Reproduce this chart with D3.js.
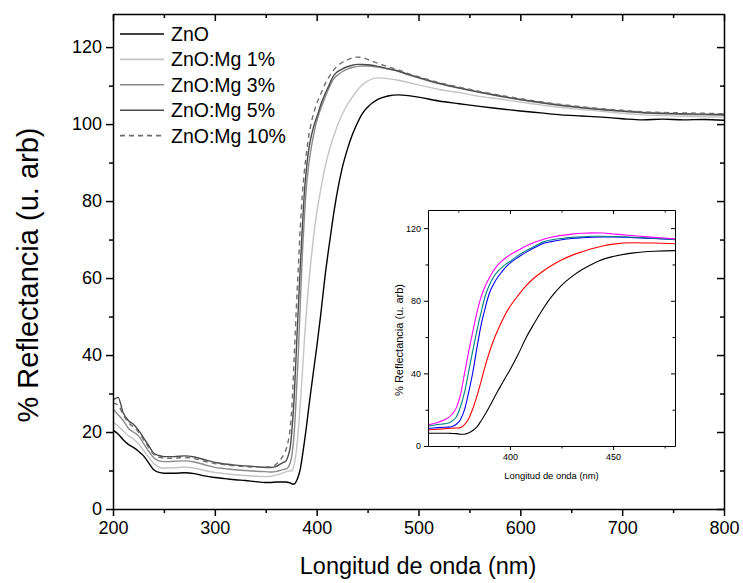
<!DOCTYPE html>
<html>
<head>
<meta charset="utf-8">
<script src="https://cdn.jsdelivr.net/npm/d3@7"></script>
<style>
  html, body { margin: 0; padding: 0; background: #fff; }
  svg { display: block; font-family: "Liberation Sans", Arial, sans-serif; }
</style>
</head>
<body>
<svg id="chart" width="743" height="583"></svg>
<script>
// ---------- data ----------
const wavelengths = [200,205,210,215,220,225,230,235,240,245,250,
  260,270,280,290,300,310,320,330,340,350,
  355,360,365,
  368,370,372,374,376,378,380,382,384,386,388,390,392,394,396,398,400,
  404,408,412,416,420,
  425,430,435,440,445,450,
  460,470,480,490,500,
  520,540,560,580,600,620,640,660,680,700,720,740,760,780,800];

const seriesNames = ["ZnO", "ZnO:Mg 1%", "ZnO:Mg 3%", "ZnO:Mg 5%", "ZnO:Mg 10%"];

const znO = [20.5,19.5,18,16.8,16,15,13.8,12,10.2,9.5,9.3,
  9.3,9.4,9.2,8.6,8.2,7.9,7.6,7.4,7.1,6.9,
  6.9,7.0,7.0,
  7.0,7.0,6.9,6.8,6.5,6.5,7.2,8.5,10.5,13.8,17.5,21.5,25.8,30,34,38,41.9,
  50.5,60,68,75.5,82,
  88.5,93.3,97.2,100.3,102.8,104.4,
  106.4,107.3,107.6,107.4,107,
  106,105.3,104.6,104,103.4,102.9,102.4,102.1,101.8,101.4,101.1,101.3,101.1,101.2,101];

const mg1 = [22.6,21.5,20.3,19,18.2,17,15.2,13.5,11.8,10.9,10.6,
  10.7,10.9,10.6,10,9.5,9.2,8.9,8.7,8.5,8.4,
  8.5,8.8,9.2,
  9.5,9.7,9.8,9.9,10.1,11.8,15,20.5,27.5,35.5,44,51.5,58,63.5,68.5,73,76.8,
  83,88.5,92.8,96.3,99.3,
  102.5,105,107,108.8,110.2,111.2,
  112,111.8,111.4,110.8,110.2,
  109,108.2,107.2,106.5,105.7,105,104.3,103.8,103.3,102.8,102.4,102.2,102,101.9,101.8];

const mg3 = [26,24.5,23,21,20,19,17,15,13.3,12.5,12.3,
  12.4,12.5,12.2,11.5,10.8,10.5,10.2,10,9.8,9.7,
  9.6,9.7,10.1,
  10.3,10.4,10.8,12,14.5,20,29.5,40.5,54,66.5,76,84,89,92.8,95.8,98.5,100.7,
  104,106.8,109.3,111.5,112.6,
  113.6,114.3,114.7,115,115.1,115.1,
  114.8,114.3,113.7,112.8,112,
  110.5,109.3,108.2,107.2,106.3,105.5,104.8,104.2,103.7,103.3,102.9,102.7,102.5,102.4,102.3];

const mg5 = [28.3,29,25,23,22,20.5,18.5,16.5,14.5,13.9,13.6,
  13.6,13.8,13.5,12.8,12.1,11.7,11.4,11.2,11,10.8,
  10.8,11,11.8,
  12.2,12.5,13.8,16,21.5,29.5,41,52.5,63.5,73.5,82.5,88.5,93,96,98.3,100.2,101.7,
  105,107.7,110,112.3,113.5,
  114.3,114.9,115.3,115.5,115.5,115.4,
  115,114.4,113.8,112.9,112.1,
  110.6,109.4,108.3,107.3,106.4,105.6,104.9,104.3,103.8,103.4,103,102.8,102.7,102.6,102.5];

const mg10 = [27.5,27,24.5,22.5,21.3,20,18,16,14.2,13.5,13.2,
  13.2,13.4,13.1,12.4,11.8,11.5,11.2,11,10.9,10.9,
  11,11.6,13,
  14.3,15.5,17.5,21,28,40,52,63,73.5,82,88,92.5,96.5,99.5,101.8,103.7,105.3,
  107.8,110.3,112.2,113.8,115,
  116,116.7,117.2,117.4,117.3,116.8,
  115.8,114.9,114.1,113.1,112.3,
  110.8,109.6,108.5,107.5,106.6,105.8,105.1,104.5,104,103.6,103.2,103,102.9,102.8,102.7];

const mainXTicks = [200, 300, 400, 500, 600, 700, 800];
const mainYTicks = [0, 20, 40, 60, 80, 100, 120];
const insetXTicks = [400, 450];
const insetYTicks = [0, 40, 80, 120];

const xTitle = "Longitud de onda (nm)";
const yTitle = "% Reflectancia (u. arb)";

// ---------- styles ----------
const mainStyles = [
  {color: "#000000", dash: null},
  {color: "#c4c4c4", dash: null},
  {color: "#8a8a8a", dash: null},
  {color: "#4a4a4a", dash: null},
  {color: "#6e6e6e", dash: "5,4"}
];
const insetColors = ["#000000", "#ff0000", "#0000ff", "#008080", "#ff00ff"];
const allValues = [znO, mg1, mg3, mg5, mg10];

const svg = d3.select("#chart");

// ---------- main chart ----------
const M = {left: 113, right: 724, top: 14, bottom: 509};
const x = d3.scaleLinear().domain([200, 800]).range([M.left, M.right]);
const y = d3.scaleLinear().domain([0, 128.6]).range([M.bottom, M.top]);

svg.append("clipPath").attr("id", "mainclip")
  .append("rect").attr("x", M.left).attr("y", M.top)
  .attr("width", M.right - M.left).attr("height", M.bottom - M.top);

const line = d3.line()
  .x((d, i) => x(wavelengths[i]))
  .y(d => y(d))
  .curve(d3.curveMonotoneX);

const gLines = svg.append("g").attr("clip-path", "url(#mainclip)");
allValues.forEach((vals, k) => {
  gLines.append("path")
    .attr("d", line(vals))
    .attr("fill", "none")
    .attr("stroke", mainStyles[k].color)
    .attr("stroke-width", 1.4)
    .attr("stroke-dasharray", mainStyles[k].dash);
});

function drawAxes(g, xs, ys, xTicksMajor, xMinor, yTicksMajor, yMinor, opt) {
  const [x0, x1] = xs.range();
  const [y0, y1] = ys.range();
  const fs = opt.fontSize;
  const bottom = g.append("g").attr("transform", `translate(0,${y0})`)
    .call(d3.axisBottom(xs).tickValues(xTicksMajor).tickSize(opt.major).tickSizeOuter(0).tickPadding(opt.padX));
  bottom.append("g").call(d3.axisBottom(xs).tickValues(xMinor).tickSize(opt.minor).tickFormat("")).select(".domain").remove();
  const left = g.append("g").attr("transform", `translate(${x0},0)`)
    .call(d3.axisLeft(ys).tickValues(yTicksMajor).tickSize(opt.major).tickSizeOuter(0).tickPadding(opt.padY));
  left.append("g").call(d3.axisLeft(ys).tickValues(yMinor).tickSize(opt.minor).tickFormat("")).select(".domain").remove();
  const top = g.append("g").attr("transform", `translate(0,${y1})`)
    .call(d3.axisBottom(xs).tickValues(xTicksMajor).tickSize(opt.major).tickSizeOuter(0).tickFormat(""));
  top.append("g").call(d3.axisBottom(xs).tickValues(xMinor).tickSize(opt.minor).tickFormat("")).select(".domain").remove();
  const right = g.append("g").attr("transform", `translate(${x1},0)`)
    .call(d3.axisLeft(ys).tickValues(yTicksMajor).tickSize(opt.major).tickSizeOuter(0).tickFormat(""));
  right.append("g").call(d3.axisLeft(ys).tickValues(yMinor).tickSize(opt.minor).tickFormat("")).select(".domain").remove();

  g.selectAll(".domain").attr("stroke", "#000").attr("stroke-width", opt.sw);
  g.selectAll(".tick line").attr("stroke", "#000").attr("stroke-width", opt.sw);
  g.selectAll(".tick text").attr("font-size", fs).attr("fill", "#000")
    .attr("font-family", '"Liberation Sans", Arial, sans-serif');
}

const axesG = svg.append("g");
drawAxes(axesG, x, y, mainXTicks, [250, 350, 450, 550, 650, 750],
  mainYTicks, [10, 30, 50, 70, 90, 110], {major: 7, minor: 4, fontSize: 18, padX: 5, padY: 4, sw: 1.5});

svg.append("text")
  .attr("x", 418).attr("y", 574)
  .attr("text-anchor", "middle").attr("font-size", 23.5).text(xTitle);
svg.append("text")
  .attr("transform", `translate(38,275) rotate(-90)`)
  .attr("text-anchor", "middle").attr("font-size", 29).text(yTitle);

// legend
const legend = svg.append("g");
seriesNames.forEach((name, i) => {
  const ly = 34 + 25.4 * i;
  legend.append("line")
    .attr("x1", 120).attr("x2", 164).attr("y1", ly).attr("y2", ly)
    .attr("stroke", mainStyles[i].color).attr("stroke-width", 1.6)
    .attr("stroke-dasharray", mainStyles[i].dash);
  legend.append("text")
    .attr("x", 171).attr("y", ly).attr("dy", "0.36em")
    .attr("font-size", 19.5).text(name);
});

// ---------- inset ----------
const I = {left: 428, right: 675, top: 210, bottom: 446};
const xi = d3.scaleLinear().domain([360.3, 480]).range([I.left, I.right]);
const yi = d3.scaleLinear().domain([0, 130]).range([I.bottom, I.top]);

svg.append("rect").attr("x", I.left).attr("y", I.top)
  .attr("width", I.right - I.left).attr("height", I.bottom - I.top).attr("fill", "#fff");

svg.append("clipPath").attr("id", "insetclip")
  .append("rect").attr("x", I.left).attr("y", I.top)
  .attr("width", I.right - I.left).attr("height", I.bottom - I.top);

const lineI = d3.line()
  .x((d, i) => xi(wavelengths[i]))
  .y(d => yi(d))
  .curve(d3.curveMonotoneX);

const gI = svg.append("g").attr("clip-path", "url(#insetclip)");
allValues.forEach((vals, k) => {
  gI.append("path")
    .attr("d", lineI(vals))
    .attr("fill", "none")
    .attr("stroke", insetColors[k])
    .attr("stroke-width", 1.1);
});

const axesI = svg.append("g");
drawAxes(axesI, xi, yi, insetXTicks, [375, 425, 475], insetYTicks, [20, 60, 100],
  {major: 4, minor: 2.5, fontSize: 9, padX: 4, padY: 3, sw: 1});

svg.append("text")
  .attr("x", (I.left + I.right) / 2).attr("y", 479)
  .attr("text-anchor", "middle").attr("font-size", 9.4).text(xTitle);
svg.append("text")
  .attr("transform", `translate(403,340) rotate(-90)`)
  .attr("text-anchor", "middle").attr("font-size", 11).text(yTitle);
</script>
</body>
</html>
